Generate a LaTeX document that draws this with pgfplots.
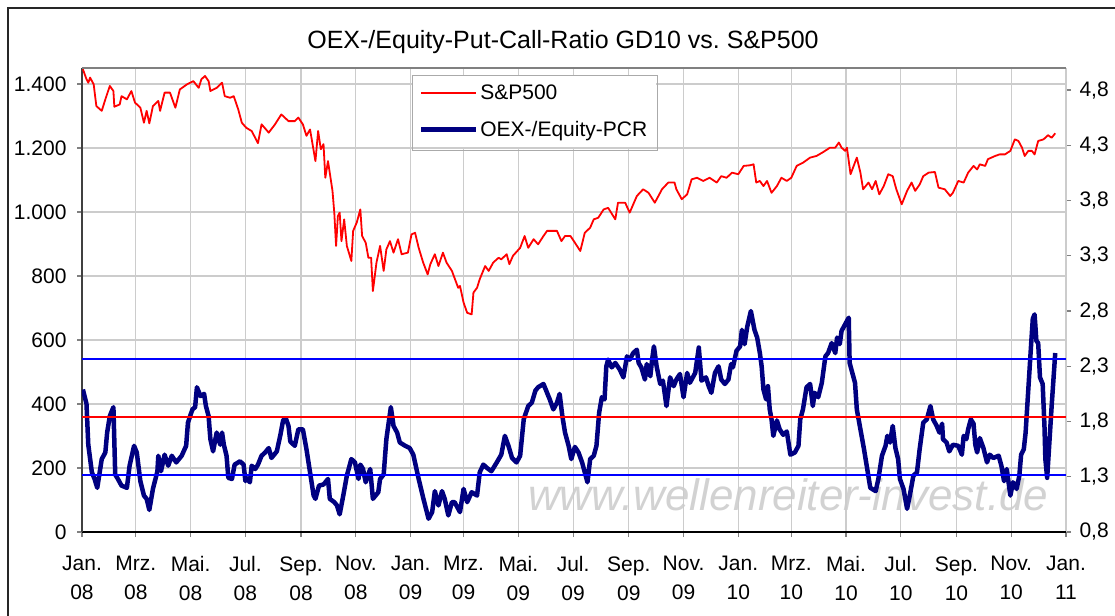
\documentclass[border=0pt]{standalone}
\usepackage{fontspec}
\setmainfont{Liberation Sans}
\usepackage{pgfplots}
\pgfplotsset{compat=1.18}
\usepackage{pgfplotstable}

\definecolor{pcrnavy}{RGB}{0,0,128}
\definecolor{gridgray}{RGB}{204,204,204}
\definecolor{wmgray}{RGB}{210,210,210}
\definecolor{legframe}{RGB}{170,170,170}

% S&P500, day = days since 1 Jan 2008
\pgfplotstableread{
day spx
1 1446
5 1415
7 1404
9 1420
13 1399
16 1331
22 1316
26 1352
31 1394
35 1378
36 1329
42 1336
44 1362
50 1352
55 1378
59 1342
65 1326
69 1279
72 1316
75 1277
79 1331
85 1347
87 1316
92 1373
98 1373
104 1326
109 1383
117 1399
124 1409
130 1388
133 1415
137 1425
141 1409
143 1378
150 1388
156 1404
159 1362
165 1357
169 1362
174 1321
178 1279
183 1263
189 1253
196 1215
200 1274
208 1248
215 1274
222 1305
230 1284
237 1284
241 1295
246 1274
250 1238
254 1258
260 1159
263 1253
266 1196
269 1212
271 1107
274 1159
279 1066
281 998
283 894
285 987
287 998
289 909
292 977
295 894
300 847
302 941
306 967
310 1008
312 925
316 904
319 857
322 857
324 753
328 842
332 894
336 816
339 883
343 909
347 873
352 915
356 868
363 873
367 930
371 935
375 888
380 842
385 805
388 837
393 868
397 831
402 873
406 842
412 816
419 763
421 769
425 717
429 685
434 680
436 748
440 763
443 790
449 831
453 816
458 842
464 857
467 852
473 868
476 837
480 863
488 888
493 925
497 888
503 915
508 899
514 925
518 941
525 941
529 941
534 909
538 925
544 925
549 904
555 878
560 935
566 951
570 977
575 982
581 1008
586 1013
594 977
597 1029
605 1029
610 998
618 1050
625 1071
631 1060
638 1029
646 1071
653 1092
660 1092
662 1071
668 1040
674 1055
679 1102
685 1107
692 1097
699 1107
707 1092
712 1112
718 1107
724 1123
731 1118
737 1144
744 1146
748 1149
751 1092
755 1097
759 1081
763 1097
768 1060
774 1081
779 1107
785 1097
790 1107
796 1144
803 1154
811 1170
818 1175
826 1188
833 1201
839 1201
843 1217
846 1201
850 1191
852 1201
856 1118
863 1170
867 1123
870 1071
876 1092
880 1071
884 1097
888 1055
893 1081
898 1118
903 1112
907 1071
913 1024
919 1066
924 1092
928 1066
933 1086
937 1112
943 1123
950 1125
954 1076
961 1071
967 1050
970 1060
976 1097
982 1092
987 1123
993 1144
997 1133
1000 1149
1006 1144
1009 1165
1017 1175
1022 1180
1028 1180
1034 1191
1039 1227
1043 1222
1047 1201
1050 1175
1054 1191
1058 1191
1061 1180
1065 1222
1071 1227
1076 1240
1080 1232
1084 1246
}\spxdata

% OEX-/Equity put-call ratio, 10-day average (right axis)
\pgfplotstableread{
day pcr
1 2.09
5 1.96
7 1.59
11 1.34
14 1.28
17 1.20
22 1.46
26 1.52
28 1.70
31 1.85
35 1.93
37 1.32
40 1.28
44 1.22
50 1.20
53 1.40
58 1.58
61 1.52
65 1.26
69 1.13
72 1.10
75 1.00
79 1.19
84 1.35
85 1.49
88 1.35
92 1.50
96 1.40
100 1.49
105 1.43
111 1.49
116 1.58
118 1.79
123 1.91
126 1.93
128 2.11
132 2.03
136 2.05
138 1.94
141 1.85
143 1.64
146 1.53
150 1.70
154 1.59
156 1.70
158 1.59
161 1.49
163 1.29
167 1.28
170 1.41
176 1.44
180 1.41
182 1.26
183 1.29
187 1.25
189 1.40
193 1.37
196 1.41
200 1.49
204 1.52
208 1.56
211 1.47
217 1.53
221 1.68
224 1.81
227 1.83
230 1.76
232 1.62
237 1.58
241 1.73
246 1.73
250 1.55
254 1.34
258 1.13
260 1.10
264 1.22
269 1.23
274 1.28
276 1.10
281 1.07
284 1.04
287 0.96
291 1.13
295 1.31
300 1.46
304 1.43
308 1.28
310 1.41
313 1.37
316 1.25
321 1.37
324 1.10
330 1.16
332 1.28
336 1.32
339 1.64
344 1.93
347 1.76
351 1.70
354 1.61
360 1.58
365 1.56
369 1.50
375 1.28
380 1.11
386 0.92
390 0.98
393 1.17
397 1.04
401 1.17
404 1.10
408 0.95
412 1.07
415 1.07
421 0.98
425 1.19
429 1.07
434 1.16
440 1.13
443 1.34
447 1.41
451 1.38
456 1.35
462 1.43
467 1.50
471 1.67
475 1.58
479 1.47
484 1.43
488 1.49
492 1.82
497 1.94
501 1.97
505 2.08
508 2.11
514 2.14
518 2.06
521 2.00
525 1.91
529 1.97
532 2.05
535 1.85
538 1.70
542 1.58
545 1.46
549 1.57
553 1.52
557 1.43
560 1.34
563 1.25
566 1.46
570 1.49
573 1.58
576 1.88
579 2.02
582 2.00
584 2.30
586 2.36
590 2.29
594 2.33
599 2.27
603 2.20
607 2.39
610 2.36
614 2.42
618 2.45
620 2.33
623 2.29
627 2.18
629 2.32
633 2.21
635 2.36
637 2.48
640 2.30
644 2.14
647 2.17
651 1.94
655 2.20
659 2.12
662 2.18
666 2.23
670 2.02
674 2.24
677 2.15
683 2.24
687 2.47
690 2.17
695 2.20
698 2.12
701 2.06
705 2.24
709 2.30
712 2.18
716 2.14
720 2.18
723 2.32
725 2.29
729 2.44
733 2.48
735 2.63
738 2.50
741 2.66
745 2.80
749 2.63
752 2.56
755 2.42
757 2.30
759 2.09
762 2.00
764 2.12
766 1.91
768 1.82
770 1.67
774 1.81
777 1.73
781 1.68
785 1.71
789 1.50
794 1.52
798 1.58
800 1.82
803 1.91
807 2.11
811 2.14
814 1.94
816 2.06
820 2.02
824 2.15
828 2.39
831 2.42
835 2.51
839 2.42
841 2.56
844 2.50
846 2.62
850 2.68
854 2.74
855 2.33
857 2.27
861 2.15
863 1.91
867 1.73
871 1.55
874 1.40
878 1.20
884 1.17
887 1.28
891 1.49
895 1.58
897 1.67
900 1.61
903 1.76
906 1.56
909 1.46
911 1.28
915 1.19
919 1.01
922 1.13
926 1.31
930 1.34
933 1.55
937 1.79
941 1.82
945 1.94
948 1.82
952 1.76
955 1.70
958 1.78
959 1.64
963 1.61
966 1.53
970 1.59
976 1.58
980 1.50
982 1.67
985 1.64
987 1.73
990 1.82
993 1.78
995 1.59
997 1.52
1000 1.65
1004 1.56
1008 1.43
1011 1.50
1015 1.47
1021 1.49
1024 1.40
1027 1.26
1030 1.37
1034 1.13
1037 1.25
1041 1.19
1044 1.31
1046 1.50
1049 1.55
1051 1.70
1054 2.09
1057 2.48
1059 2.73
1061 2.77
1063 2.53
1065 2.51
1067 2.20
1070 2.14
1072 1.76
1073 1.46
1075 1.29
1077 1.55
1080 1.94
1082 2.18
1084 2.42
}\pcrdata

\pgfplotsset{
  every axis/.append style={
    scale only axis, width=984pt, height=464pt,
    at={(82pt,83pt)}, anchor=south west,
    xmin=0, xmax=1096,
    tick align=outside, major tick length=5pt,
    tick style={line width=1.2pt},
    tick label style={font=\fontsize{21}{29}\selectfont},
    /pgf/number format/assume math mode=true,
  },
  % right axis runs from 0.8 to 5.0 over the same height as 0 to 1450
  onright/.style={y filter/.expression={(y-0.8)*1450/4.2}},
}

\begin{document}
\begin{tikzpicture}[x=1pt,y=1pt]
\path[use as bounding box] (0,0) rectangle (1115,615);
\draw[line width=1.5pt, black!85] (8,-5) -- (8,607) -- (1120,607);
\node[anchor=base, font=\fontsize{25}{30}\selectfont] at (563,566)
  {OEX-/Equity-Put-Call-Ratio GD10 vs.\ S\&P500};
\node[anchor=base west, inner sep=0, text=wmgray,
  font=\fontsize{44}{44}\selectfont\itshape] at (528,104)
  {www.wellenreiter-invest.de};

% right axis: ticks and labels only
\begin{axis}[
  axis x line=none, axis y line*=right,
  ymin=0.8, ymax=5.0,
  ytick={0.8,1.3,1.8,2.3,2.8,3.3,3.8,4.3,4.8},
  y axis line style={black, line width=1.3pt},
  yticklabel style={xshift=5pt, /pgf/number format/.cd, fixed, fixed zerofill, precision=1, use comma},
]
\end{axis}

\begin{axis}[
  axis x line*=bottom, axis y line*=left,
  ymin=0, ymax=1450,
  ytick={0,200,...,1400},
  xtick={0,60,121,182,244,305,366,425,486,547,609,670,731,790,851,912,974,1035,1096},
  xticklabels={Jan.\\08,Mrz.\\08,Mai.\\08,Jul.\\08,Sep.\\08,Nov.\\08,
    Jan.\\09,Mrz.\\09,Mai.\\09,Jul.\\09,Sep.\\09,Nov.\\09,
    Jan.\\10,Mrz.\\10,Mai.\\10,Jul.\\10,Sep.\\10,Nov.\\10,Jan.\\11},
  xticklabel style={align=center, yshift=-16pt},
  yticklabel style={xshift=-7pt},
  xmajorgrids, ymajorgrids,
  grid style={gridgray, line width=1.2pt},
  x axis line style={black, line width=1.3pt},
  y axis line style={black!75, line width=1.5pt},
  yticklabel style={/pgf/number format/.cd, use comma, 1000 sep={.}},
  legend style={at={(0.335,0.983)}, anchor=north west, draw=none,
    fill=white, font=\fontsize{21}{25}\selectfont,
    inner xsep=7pt, inner ysep=7pt, row sep=16pt},
  legend cell align=left,
  legend image code/.code={\draw[#1] (0pt,0pt) -- (55pt,0pt);},
]
\draw[gray, line width=1.5pt] (rel axis cs:0,1) -- (rel axis cs:1,1);
\addplot[draw=red, line width=1.8pt, line join=round] table[x=day, y=spx] {\spxdata};
\addlegendentry{S\&P500}
\addplot[draw=pcrnavy, line width=4.5pt, line join=round, onright] table[x=day, y=pcr] {\pcrdata};
\addlegendentry{OEX-/Equity-PCR}
\addplot[red, line width=2.3pt, onright, forget plot] coordinates {(0,1.84) (1096,1.84)};
\addplot[blue, line width=2pt, onright, forget plot] coordinates {(0,1.32) (1096,1.32)};
\addplot[blue, line width=2pt, onright, forget plot] coordinates {(0,2.37) (1096,2.37)};
\end{axis}
\draw[legframe, line width=1pt] (412,539) rectangle (657,464);
\end{tikzpicture}
\end{document}
